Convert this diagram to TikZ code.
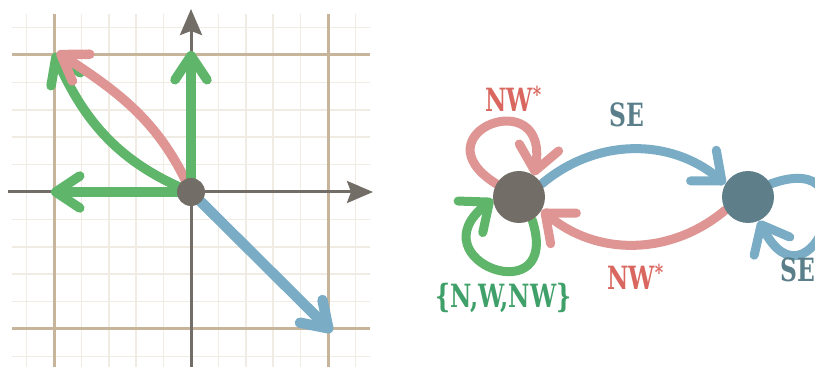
\documentclass[tikz,border=0pt]{standalone}
\usepackage{fontspec}
\newfontfamily\lblfont{DejaVu Serif}[FakeStretch=0.73]
\usetikzlibrary{arrows.meta,backgrounds}
\definecolor{pinkE}{HTML}{DF9594}
\definecolor{pinkT}{HTML}{D9675F}
\definecolor{blueE}{HTML}{7AADC5}
\definecolor{blueT}{HTML}{5B7F8A}
\definecolor{greenE}{HTML}{5FB56A}
\definecolor{greenT}{HTML}{40A06A}
\definecolor{greyN}{HTML}{736D67}
\definecolor{tealN}{HTML}{5E7F89}
\definecolor{gridMajor}{HTML}{C6B59B}
\definecolor{gridMinor}{HTML}{F1ECE3}
\tikzset{
  minorline/.style={draw=gridMinor, line width=1.5pt},
  majorline/.style={draw=gridMajor, line width=3pt},
  axisline/.style={draw=greyN, line width=3pt, -{Stealth[length=26pt,width=22pt,inset=4pt]}},
  vecL/.style={line width=9.5pt, line cap=round, -{Straight Barb[length=24pt,width=32pt,round]}},
  edgeR/.style={line width=9pt, line cap=round, -{Straight Barb[length=24pt,width=40pt,round]}},
  statenode/.style={circle, inner sep=0pt, minimum size=52pt},
  dotnode/.style={circle, fill=greyN, inner sep=0pt, minimum size=28pt},
  lbl/.style={font=\lblfont\bfseries\fontsize{32}{32}\selectfont, inner sep=0pt, anchor=base west},
}
\newcommand{\upstar}{\raisebox{9pt}{\fontsize{22}{22}\selectfont *}}
\begin{document}
\begin{tikzpicture}[x=1pt,y=1pt]
\useasboundingbox (0,0) rectangle (815,367);
% ---------- left panel: grid ----------
\foreach \k in {-6,...,6} {
  \draw[minorline] ({191+27.4*\k},0) -- ({191+27.4*\k},353);
  \draw[minorline] (12,{175+27.4*\k}) -- (370,{175+27.4*\k});
}
\draw[majorline] (54,0) -- (54,353);
\draw[majorline] (328,0) -- (328,353);
\draw[majorline] (12,38) -- (370,38);
\draw[majorline] (12,312) -- (370,312);
% axes
\coordinate (xs) at (8,175);
\coordinate (xe) at (373,175);
\coordinate (ys) at (191,0);
\coordinate (ye) at (191,358);
\draw[axisline] (xs) -- (xe);
\draw[axisline] (ys) -- (ye);
% vectors
\coordinate (O) at (191,175);
\coordinate (Pup) at (191,316);
\coordinate (Pleft) at (51,175);
\coordinate (Pse) at (332,35);
\coordinate (Pnwp) at (57,315);
\coordinate (Pnwg) at (54,314);
\draw[vecL, draw=blueE, line width=10.5pt] (O) -- (Pse);
\draw[vecL, draw=greenE] (O) to[out=158, in=-66] (Pnwg);
\draw[vecL, draw=pinkE] (O) to[out=114, in=-33] (Pnwp);
\draw[vecL, draw=greenE] (O) -- (Pup);
\draw[vecL, draw=greenE] (O) -- (Pleft);
\node[dotnode] (Odot) at (O) {};
% ---------- right panel ----------
\node[statenode, fill=greyN] (L) at (519,170) {};
\node[statenode, fill=tealN] (R) at (748,170) {};
\begin{scope}[on background layer]
\draw[edgeR, draw=blueE] (L.30) to[bend left=40] (R.150);
\draw[edgeR, draw=pinkE] (R.-150) to[bend left=40] (L.-30);
\draw[edgeR, draw=pinkE] (L.150) .. controls +(148:96) and +(80:96) .. (L.55);
\draw[edgeR, draw=greenE] (L.-60) .. controls +(-72:100) and +(218:100) .. (L.185);
\draw[edgeR, draw=blueE] (R.30) .. controls +(20:112) and +(-63:112) .. (R.-65);
\end{scope}
\node[lbl, text=pinkT] (nwtop) at (485,255) {NW\upstar};
\node[lbl, text=blueT] (setop) at (609,240) {SE};
\node[lbl, text=pinkT] (nwbot) at (607,77) {NW\upstar};
\node[lbl, text=greenT] (nwset) at (435,59) {\{N,W,NW\}};
\node[lbl, text=blueT] (seright) at (780,85) {SE};
\end{tikzpicture}
\end{document}
